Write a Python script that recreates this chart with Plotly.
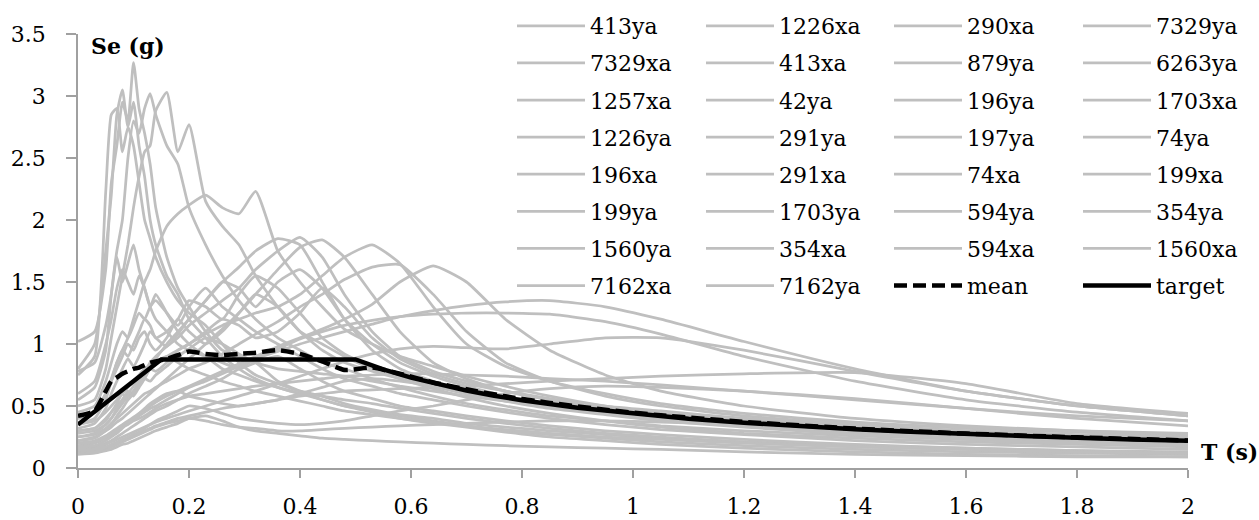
import plotly.graph_objects as go

# ---------------- data ----------------
T = [0, 0.03, 0.05, 0.06, 0.07, 0.08, 0.09, 0.10, 0.11, 0.12, 0.13, 0.14,
     0.16, 0.18, 0.20, 0.23, 0.26, 0.29, 0.32, 0.36, 0.40, 0.44, 0.48, 0.53,
     0.58, 0.64, 0.70, 0.77, 0.85, 0.95, 1.05, 1.2, 1.4, 1.6, 1.8, 2.0]

se_413ya = [1.02, 1.10, 1.60, 2.30, 2.60, 2.95, 2.80, 3.27, 2.90, 2.70, 2.45, 2.10,
            1.70, 1.45, 1.30, 1.10, 0.95, 0.90, 0.85, 0.70, 0.62, 0.55, 0.50, 0.45,
            0.40, 0.36, 0.33, 0.29, 0.25, 0.22, 0.19, 0.16, 0.13, 0.11, 0.10, 0.09]
se_1226xa = [0.80, 1.00, 1.75, 2.20, 2.85, 3.05, 2.75, 2.95, 2.60, 2.35, 2.00, 1.80,
             1.55, 1.40, 1.20, 1.05, 0.90, 0.80, 0.72, 0.65, 0.60, 0.55, 0.50, 0.46,
             0.42, 0.38, 0.34, 0.30, 0.27, 0.24, 0.21, 0.18, 0.15, 0.13, 0.12, 0.11]
se_290xa = [0.75, 0.90, 2.23, 2.85, 2.90, 2.55, 2.75, 2.60, 2.30, 2.00, 1.85, 1.70,
            1.50, 1.35, 1.25, 1.15, 1.00, 0.85, 0.75, 0.68, 0.62, 0.58, 0.52, 0.47,
            0.43, 0.40, 0.36, 0.33, 0.30, 0.27, 0.24, 0.21, 0.18, 0.16, 0.14, 0.13]
se_7329ya = [0.55, 0.65, 0.95, 1.40, 1.75, 2.00, 2.50, 2.80, 2.70, 2.90, 3.02, 2.85,
             2.60, 2.45, 2.10, 1.80, 1.55, 1.35, 1.20, 1.05, 0.95, 0.85, 0.80, 0.72,
             0.65, 0.58, 0.52, 0.47, 0.42, 0.38, 0.34, 0.30, 0.26, 0.23, 0.21, 0.19]
se_7329xa = [0.50, 0.55, 0.80, 1.05, 1.30, 1.55, 1.80, 2.10, 2.35, 2.55, 2.60, 2.88,
             3.03, 2.55, 2.77, 2.15, 1.95, 1.80, 1.55, 1.30, 1.10, 1.00, 0.90, 0.80,
             0.72, 0.64, 0.57, 0.50, 0.44, 0.38, 0.33, 0.28, 0.24, 0.21, 0.19, 0.17]
se_413xa = [0.40, 0.45, 0.60, 0.70, 0.85, 0.95, 1.05, 1.20, 1.35, 1.50, 1.60, 1.75,
            1.95, 2.05, 2.12, 2.20, 2.10, 2.05, 2.23, 1.75, 1.50, 1.30, 1.12, 1.00,
            0.90, 0.82, 0.74, 0.66, 0.58, 0.50, 0.44, 0.38, 0.32, 0.28, 0.25, 0.22]
se_879ya = [0.30, 0.32, 0.40, 0.45, 0.50, 0.55, 0.60, 0.66, 0.72, 0.78, 0.85, 0.90,
            0.98, 1.05, 1.15, 1.25, 1.35, 1.45, 1.60, 1.75, 1.86, 1.70, 1.40, 1.10,
            0.90, 0.78, 0.70, 0.62, 0.55, 0.48, 0.42, 0.36, 0.30, 0.26, 0.23, 0.20]
se_6263ya = [0.28, 0.30, 0.35, 0.40, 0.46, 0.52, 0.58, 0.62, 0.68, 0.75, 0.82, 0.88,
             1.00, 1.10, 1.20, 1.35, 1.50, 1.62, 1.75, 1.85, 1.80, 1.50, 1.20, 0.95,
             0.80, 0.70, 0.62, 0.55, 0.50, 0.45, 0.40, 0.35, 0.30, 0.27, 0.24, 0.22]
se_1257xa = [0.22, 0.25, 0.30, 0.33, 0.37, 0.40, 0.44, 0.48, 0.52, 0.56, 0.60, 0.64,
             0.72, 0.80, 0.88, 1.00, 1.12, 1.25, 1.40, 1.60, 1.78, 1.84, 1.70, 1.40,
             1.10, 0.85, 0.72, 0.62, 0.55, 0.48, 0.43, 0.37, 0.31, 0.27, 0.24, 0.21]
se_42ya = [0.35, 0.38, 0.45, 0.50, 0.55, 0.60, 0.65, 0.70, 0.75, 0.80, 0.82, 0.85,
           0.90, 0.95, 1.00, 1.08, 1.15, 1.20, 1.25, 1.30, 1.40, 1.55, 1.70, 1.80,
           1.65, 1.30, 1.00, 0.82, 0.70, 0.60, 0.52, 0.44, 0.37, 0.32, 0.29, 0.26]
se_196ya = [0.25, 0.27, 0.32, 0.36, 0.40, 0.44, 0.48, 0.52, 0.56, 0.60, 0.62, 0.65,
            0.70, 0.75, 0.80, 0.85, 0.92, 1.00, 1.08, 1.18, 1.30, 1.40, 1.52, 1.62,
            1.64, 1.40, 1.10, 0.85, 0.70, 0.58, 0.50, 0.42, 0.35, 0.30, 0.26, 0.23]
se_1703xa = [0.20, 0.22, 0.26, 0.29, 0.32, 0.35, 0.38, 0.41, 0.44, 0.47, 0.50, 0.53,
             0.58, 0.62, 0.66, 0.72, 0.78, 0.84, 0.90, 0.98, 1.05, 1.12, 1.20, 1.32,
             1.50, 1.63, 1.50, 1.20, 0.95, 0.75, 0.62, 0.50, 0.40, 0.34, 0.30, 0.27]
se_1226ya = [0.18, 0.20, 0.24, 0.27, 0.30, 0.33, 0.36, 0.39, 0.42, 0.45, 0.48, 0.50,
             0.55, 0.60, 0.65, 0.70, 0.76, 0.82, 0.88, 0.94, 1.00, 1.05, 1.10, 1.16,
             1.22, 1.27, 1.31, 1.34, 1.35, 1.30, 1.20, 1.02, 0.80, 0.62, 0.50, 0.42]
se_291ya = [0.15, 0.17, 0.20, 0.22, 0.25, 0.28, 0.31, 0.34, 0.37, 0.40, 0.43, 0.46,
            0.50, 0.55, 0.60, 0.66, 0.72, 0.80, 0.88, 0.96, 1.04, 1.10, 1.15, 1.19,
            1.22, 1.24, 1.25, 1.25, 1.24, 1.18, 1.08, 0.90, 0.70, 0.55, 0.45, 0.38]
se_197ya = [0.15, 0.16, 0.19, 0.21, 0.23, 0.25, 0.27, 0.29, 0.31, 0.33, 0.35, 0.37,
            0.40, 0.43, 0.46, 0.50, 0.54, 0.58, 0.62, 0.68, 0.74, 0.80, 0.86, 0.92,
            0.96, 0.98, 0.97, 0.96, 1.00, 1.05, 1.05, 0.95, 0.78, 0.62, 0.50, 0.42]
se_74ya = [0.13, 0.14, 0.16, 0.18, 0.20, 0.22, 0.24, 0.26, 0.28, 0.30, 0.32, 0.34,
           0.37, 0.40, 0.42, 0.45, 0.48, 0.50, 0.52, 0.55, 0.58, 0.60, 0.62, 0.63,
           0.64, 0.65, 0.66, 0.68, 0.70, 0.72, 0.74, 0.76, 0.77, 0.68, 0.52, 0.44]
se_196xa = [0.45, 0.50, 0.70, 0.85, 1.00, 1.10, 1.05, 1.15, 1.25, 1.20, 1.30, 1.35,
            1.25, 1.15, 1.30, 1.45, 1.30, 1.20, 1.10, 1.00, 0.90, 0.80, 0.72, 0.66,
            0.60, 0.55, 0.50, 0.45, 0.40, 0.35, 0.31, 0.27, 0.22, 0.19, 0.17, 0.15]
se_291xa = [0.35, 0.40, 0.55, 0.70, 0.80, 0.90, 1.00, 0.95, 1.05, 1.10, 1.00, 0.95,
            1.05, 1.20, 1.10, 1.00, 1.10, 1.25, 1.40, 1.30, 1.10, 0.95, 0.85, 0.78,
            0.72, 0.66, 0.60, 0.55, 0.50, 0.45, 0.40, 0.34, 0.28, 0.24, 0.21, 0.19]
se_74xa = [0.60, 0.70, 1.00, 1.20, 1.45, 1.60, 1.50, 1.40, 1.55, 1.45, 1.30, 1.20,
           1.10, 1.00, 0.95, 0.90, 0.85, 0.80, 0.85, 0.90, 0.80, 0.70, 0.62, 0.56,
           0.50, 0.46, 0.42, 0.38, 0.34, 0.30, 0.27, 0.23, 0.19, 0.16, 0.14, 0.12]
se_199xa = [0.78, 0.85, 1.15, 1.40, 1.70, 1.50, 1.65, 1.80, 1.60, 1.45, 1.30, 1.40,
            1.25, 1.10, 1.00, 0.90, 0.80, 0.75, 0.70, 0.65, 0.60, 0.58, 0.55, 0.52,
            0.48, 0.44, 0.40, 0.36, 0.32, 0.28, 0.25, 0.21, 0.17, 0.15, 0.13, 0.11]
se_199ya = [0.30, 0.32, 0.38, 0.45, 0.52, 0.60, 0.55, 0.62, 0.70, 0.75, 0.80, 0.78,
            0.85, 0.95, 1.00, 1.10, 1.20, 1.15, 1.05, 1.10, 1.25, 1.45, 1.30, 1.05,
            0.88, 0.76, 0.68, 0.62, 0.56, 0.50, 0.46, 0.40, 0.34, 0.30, 0.27, 0.25]
se_1703ya = [0.20, 0.21, 0.24, 0.27, 0.30, 0.33, 0.35, 0.38, 0.40, 0.42, 0.45, 0.48,
             0.52, 0.55, 0.58, 0.60, 0.62, 0.64, 0.66, 0.68, 0.70, 0.72, 0.74, 0.75,
             0.76, 0.76, 0.75, 0.74, 0.72, 0.70, 0.67, 0.62, 0.55, 0.48, 0.42, 0.38]
se_594ya = [0.12, 0.13, 0.15, 0.17, 0.19, 0.21, 0.23, 0.25, 0.27, 0.29, 0.31, 0.33,
            0.36, 0.38, 0.40, 0.38, 0.35, 0.33, 0.32, 0.30, 0.30, 0.31, 0.32, 0.33,
            0.34, 0.35, 0.36, 0.37, 0.38, 0.38, 0.37, 0.35, 0.32, 0.28, 0.24, 0.21]
se_354ya = [0.11, 0.12, 0.14, 0.15, 0.17, 0.19, 0.20, 0.22, 0.24, 0.26, 0.28, 0.30,
            0.33, 0.36, 0.40, 0.42, 0.38, 0.33, 0.30, 0.28, 0.26, 0.24, 0.23, 0.22,
            0.21, 0.20, 0.19, 0.18, 0.17, 0.16, 0.15, 0.13, 0.11, 0.10, 0.09, 0.09]
se_1560ya = [0.25, 0.28, 0.35, 0.40, 0.48, 0.55, 0.62, 0.58, 0.65, 0.72, 0.80, 0.85,
             0.90, 0.85, 0.80, 0.75, 0.70, 0.66, 0.62, 0.58, 0.54, 0.50, 0.46, 0.43,
             0.40, 0.37, 0.34, 0.31, 0.28, 0.25, 0.23, 0.20, 0.17, 0.15, 0.13, 0.12]
se_354xa = [0.17, 0.18, 0.22, 0.25, 0.28, 0.32, 0.36, 0.40, 0.44, 0.48, 0.52, 0.55,
            0.60, 0.62, 0.58, 0.55, 0.52, 0.50, 0.52, 0.55, 0.60, 0.65, 0.70, 0.72,
            0.70, 0.66, 0.60, 0.55, 0.50, 0.45, 0.40, 0.34, 0.28, 0.24, 0.21, 0.19]
se_594xa = [0.14, 0.15, 0.17, 0.19, 0.21, 0.23, 0.25, 0.27, 0.29, 0.32, 0.35, 0.38,
            0.42, 0.46, 0.50, 0.48, 0.44, 0.40, 0.38, 0.36, 0.35, 0.36, 0.38, 0.42,
            0.46, 0.50, 0.55, 0.60, 0.64, 0.66, 0.65, 0.62, 0.56, 0.48, 0.40, 0.34]
se_1560xa = [0.22, 0.24, 0.30, 0.35, 0.42, 0.48, 0.55, 0.60, 0.66, 0.72, 0.70, 0.75,
             0.82, 0.90, 0.96, 1.05, 1.00, 0.92, 0.85, 0.80, 0.78, 0.76, 0.74, 0.70,
             0.66, 0.62, 0.58, 0.54, 0.50, 0.46, 0.43, 0.40, 0.36, 0.33, 0.30, 0.28]
se_7162xa = [0.40, 0.45, 0.60, 0.72, 0.85, 0.95, 0.90, 1.00, 1.10, 1.20, 1.15, 1.05,
             1.10, 1.20, 1.35, 1.30, 1.20, 1.40, 1.55, 1.45, 1.25, 1.05, 0.92, 0.82,
             0.74, 0.67, 0.60, 0.54, 0.48, 0.43, 0.38, 0.33, 0.27, 0.23, 0.20, 0.18]
se_7162ya = [0.32, 0.36, 0.48, 0.60, 0.70, 0.80, 0.88, 0.82, 0.90, 1.00, 1.10, 1.05,
             0.98, 1.08, 1.20, 1.35, 1.50, 1.45, 1.30, 1.50, 1.60, 1.45, 1.20, 1.00,
             0.85, 0.74, 0.66, 0.58, 0.52, 0.46, 0.41, 0.36, 0.31, 0.28, 0.25, 0.23]

mean_se = [0.42, 0.46, 0.62, 0.70, 0.73, 0.76, 0.78, 0.80, 0.81, 0.83, 0.85, 0.86,
           0.88, 0.91, 0.94, 0.92, 0.91, 0.92, 0.93, 0.95, 0.92, 0.86, 0.79, 0.81,
           0.76, 0.69, 0.635, 0.578, 0.525, 0.47, 0.425, 0.372, 0.318, 0.278, 0.247, 0.222]

T_target = [0, 0.15, 0.5, 0.55, 0.6, 0.65, 0.7, 0.75, 0.8, 0.9, 1.0, 1.1, 1.2,
            1.3, 1.4, 1.5, 1.6, 1.7, 1.8, 1.9, 2.0]
target_se = [0.35, 0.875, 0.875, 0.795, 0.729, 0.673, 0.625, 0.583, 0.547, 0.486,
             0.4375, 0.398, 0.365, 0.337, 0.3125, 0.292, 0.273, 0.257, 0.243, 0.230, 0.219]

records = [
    ("413ya", se_413ya), ("1226xa", se_1226xa), ("290xa", se_290xa), ("7329ya", se_7329ya),
    ("7329xa", se_7329xa), ("413xa", se_413xa), ("879ya", se_879ya), ("6263ya", se_6263ya),
    ("1257xa", se_1257xa), ("42ya", se_42ya), ("196ya", se_196ya), ("1703xa", se_1703xa),
    ("1226ya", se_1226ya), ("291ya", se_291ya), ("197ya", se_197ya), ("74ya", se_74ya),
    ("196xa", se_196xa), ("291xa", se_291xa), ("74xa", se_74xa), ("199xa", se_199xa),
    ("199ya", se_199ya), ("1703ya", se_1703ya), ("594ya", se_594ya), ("354ya", se_354ya),
    ("1560ya", se_1560ya), ("354xa", se_354xa), ("594xa", se_594xa), ("1560xa", se_1560xa),
    ("7162xa", se_7162xa), ("7162ya", se_7162ya),
]

x_ticks = [0, 0.2, 0.4, 0.6, 0.8, 1.0, 1.2, 1.4, 1.6, 1.8, 2.0]
x_ticktext = ["0", "0.2", "0.4", "0.6", "0.8", "1", "1.2", "1.4", "1.6", "1.8", "2"]
y_ticks = [0, 0.5, 1.0, 1.5, 2.0, 2.5, 3.0, 3.5]
y_ticktext = ["0", "0.5", "1", "1.5", "2", "2.5", "3", "3.5"]

for nm, vals in records:
    assert len(vals) == len(T), nm
assert len(mean_se) == len(T)
assert len(target_se) == len(T_target)

# ---------------- figure ----------------
FONT = "DejaVu Serif"
FS = 22
GREY = "#BFBFBF"
AXIS = "#A0A0A0"
LEGENDS = ["legend", "legend2", "legend3", "legend4"]

fig = go.Figure()
for i, (nm, vals) in enumerate(records):
    fig.add_trace(go.Scatter(
        x=T, y=vals, mode="lines", name=nm,
        line=dict(color=GREY, width=2.75, shape="spline", smoothing=0.5),
        legend=LEGENDS[i % 4], legendgroup=nm, legendrank=i // 4 + 1,
        hoverinfo="skip"))

n = len(records)
fig.add_trace(go.Scatter(
    x=T, y=mean_se, mode="lines", name="mean",
    line=dict(color="black", width=4.5, dash="13px,6px", shape="spline", smoothing=0.5),
    legend=LEGENDS[n % 4], legendgroup="mean", legendrank=n // 4 + 1))
fig.add_trace(go.Scatter(
    x=T_target, y=target_se, mode="lines", name="target",
    line=dict(color="black", width=4.5),
    legend=LEGENDS[(n + 1) % 4], legendgroup="target", legendrank=(n + 1) // 4 + 1))

col_left_px = [512, 701, 889, 1078]
L, R, TOP, B = 78, 71, 34, 52
W, H = 1259, 520
pw, ph = W - L - R, H - TOP - B
legend_top_px = 5

leg_cfg = {}
for k, lg in enumerate(LEGENDS):
    leg_cfg[lg] = dict(
        x=(col_left_px[k] - L) / pw, y=(H - B - legend_top_px) / ph,
        xref="paper", yref="paper", xanchor="left", yanchor="top",
        orientation="v", traceorder="grouped", tracegroupgap=5.5,
        itemwidth=68, bgcolor="rgba(0,0,0,0)", borderwidth=0, maxheight=480,
        font=dict(family=FONT, size=FS, color="black"),
    )

fig.update_layout(
    width=W, height=H,
    margin=dict(l=L, r=R, t=TOP, b=B, pad=0, autoexpand=False),
    paper_bgcolor="white", plot_bgcolor="white",
    font=dict(family=FONT, size=FS, color="black"),
    showlegend=True,
    **leg_cfg,
    xaxis=dict(range=[0, 2], tickvals=x_ticks, ticktext=x_ticktext, automargin=False,
               showline=True, linecolor=AXIS, linewidth=1.5,
               ticks="outside", ticklen=8, tickwidth=1.5, tickcolor=AXIS,
               showgrid=False, zeroline=False, ticklabelstandoff=10,
               tickfont=dict(family=FONT, size=FS, color="black")),
    yaxis=dict(range=[0, 3.5], tickvals=y_ticks, ticktext=y_ticktext, automargin=False,
               showline=True, linecolor=AXIS, linewidth=1.5,
               ticks="outside", ticklen=10, tickwidth=1.5, tickcolor=AXIS,
               showgrid=False, zeroline=False, ticklabelstandoff=16,
               tickfont=dict(family=FONT, size=FS, color="black")),
    annotations=[
        dict(text="<b>Se (g)</b>", xref="paper", yref="paper",
             x=(89 - L) / pw, y=(H - B - 46) / ph, xanchor="left", yanchor="middle",
             showarrow=False, font=dict(family=FONT, size=FS, color="black")),
        dict(text="<b>T (s)</b>", xref="paper", yref="paper",
             x=(1199 - L) / pw, y=(H - B - 452) / ph, xanchor="left", yanchor="middle",
             showarrow=False, font=dict(family=FONT, size=FS, color="black")),
    ],
)

fig.write_html("out.html")
